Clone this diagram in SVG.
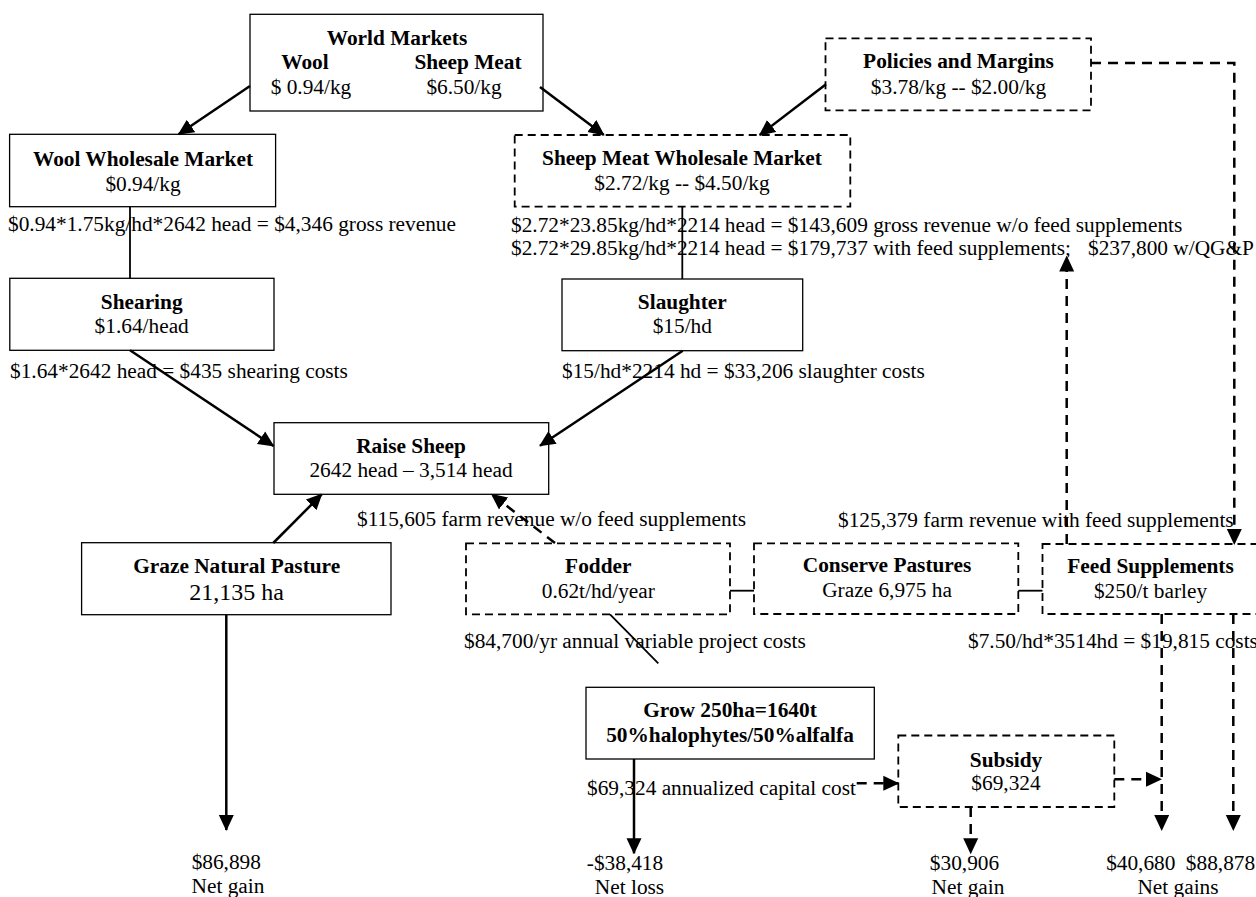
<svg xmlns="http://www.w3.org/2000/svg" width="1256" height="897" viewBox="0 0 1256 897">
<style>
text{font-family:"Liberation Serif","Times New Roman",serif;font-size:21.33px;fill:#000}
.b{font-weight:bold}
.c{text-anchor:middle}
.box{fill:#fff;stroke:#000;stroke-width:1.3}
.dbox{fill:#fff;stroke:#000;stroke-width:1.8;stroke-dasharray:8 5}
.conn{fill:none;stroke:#000;stroke-width:2.5}
.dash{stroke-dasharray:10 7}
.thin{stroke-width:1.8}
</style>
<defs>
<marker id="ah" markerUnits="userSpaceOnUse" markerWidth="16" markerHeight="16" viewBox="0 0 16 16" refX="15" refY="8" orient="auto">
<path d="M0,0.5 L16,8 L0,15.5 z" fill="#000"/>
</marker>
</defs>

<g id="labels">
<text x="8" y="231">$0.94*1.75kg/hd*2642 head = $4,346 gross revenue</text>
<text x="511" y="231.5">$2.72*23.85kg/hd*2214 head = $143,609 gross revenue w/o feed supplements</text>
<text x="511" y="255.3">$2.72*29.85kg/hd*2214 head = $179,737 with feed supplements;</text>
<text x="1088" y="255.3">$237,800 w/QG&amp;P</text>
<text x="10" y="378">$1.64*2642 head = $435 shearing costs</text>
<text x="562" y="378">$15/hd*2214 hd = $33,206 slaughter costs</text>
<text x="357" y="526">$115,605 farm revenue w/o feed supplements</text>
<text x="838" y="527">$125,379 farm revenue with feed supplements</text>
<text x="464" y="648">$84,700/yr annual variable project costs</text>
<text x="968" y="648">$7.50/hd*3514hd = $19,815 costs</text>
<text x="587" y="795">$69,324 annualized capital cost</text>
<text class="c" x="226.3" y="869">$86,898</text>
<text class="c" x="228" y="893">Net gain</text>
<text class="c" x="625" y="870">-$38,418</text>
<text class="c" x="629.5" y="894">Net loss</text>
<text class="c" x="964.5" y="870">$30,906</text>
<text class="c" x="968" y="894">Net gain</text>
<text class="c" x="1140.8" y="870">$40,680</text>
<text class="c" x="1220.5" y="870">$88,878</text>
<text class="c" x="1178" y="894">Net gains</text>
</g>

<g id="world-markets">
<rect class="box" x="250" y="14.3" width="293" height="96.7"/>
<text class="b c" x="397" y="45">World Markets</text>
<text class="b c" x="305" y="69.3">Wool</text>
<text class="b c" x="468" y="69.3">Sheep Meat</text>
<text class="c" x="311" y="94">$ 0.94/kg</text>
<text class="c" x="464" y="94">$6.50/kg</text>
</g>

<g id="wool-wholesale">
<rect class="box" x="9.6" y="134.3" width="266" height="72.4"/>
<text class="b c" x="143" y="165.5">Wool Wholesale Market</text>
<text class="c" x="143" y="190.5">$0.94/kg</text>
</g>

<g id="policies">
<rect class="dbox" x="825.5" y="38.3" width="265.5" height="72"/>
<text class="b c" x="958.5" y="68.3">Policies and Margins</text>
<text class="c" x="958.5" y="93.5">$3.78/kg -- $2.00/kg</text>
</g>

<g id="sheep-meat-wholesale">
<rect class="dbox" x="514.7" y="135" width="335.6" height="71.7"/>
<text class="b c" x="682" y="165">Sheep Meat Wholesale Market</text>
<text class="c" x="682" y="190">$2.72/kg -- $4.50/kg</text>
</g>

<g id="shearing">
<rect class="box" x="9.8" y="278.3" width="264.2" height="72"/>
<text class="b c" x="141.7" y="309.3">Shearing</text>
<text class="c" x="141.7" y="333.3">$1.64/head</text>
</g>

<g id="slaughter">
<rect class="box" x="562" y="279" width="240.7" height="71.7"/>
<text class="b c" x="682.3" y="309.3">Slaughter</text>
<text class="c" x="682.3" y="333.3">$15/hd</text>
</g>

<g id="raise-sheep">
<rect class="box" x="274" y="422.7" width="274.7" height="71.6"/>
<text class="b c" x="411" y="452.7">Raise Sheep</text>
<text class="c" x="411" y="477.3">2642 head – 3,514 head</text>
</g>

<g id="graze">
<rect class="box" x="81.6" y="542.7" width="309.4" height="72"/>
<text class="b c" x="236.7" y="572.7">Graze Natural Pasture</text>
<text class="c" x="236.7" y="600" style="font-size:24px">21,135 ha</text>
</g>

<g id="fodder">
<rect class="dbox" x="466" y="543.3" width="264" height="71"/>
<text class="b c" x="598.3" y="572.7">Fodder</text>
<text class="c" x="598.3" y="597.7">0.62t/hd/year</text>
</g>

<g id="conserve">
<rect class="dbox" x="754" y="543.3" width="264.3" height="70.7"/>
<text class="b c" x="887" y="572">Conserve Pastures</text>
<text class="c" x="887" y="597">Graze 6,975 ha</text>
</g>

<g id="feed">
<rect class="dbox" x="1042.5" y="544" width="225" height="70"/>
<text class="b c" x="1150.5" y="573">Feed Supplements</text>
<text class="c" x="1150.5" y="598">$250/t barley</text>
</g>

<g id="grow">
<rect class="box" x="586" y="687.3" width="288.3" height="71.7"/>
<text class="b c" x="730" y="717.3">Grow 250ha=1640t</text>
<text class="b c" x="730" y="741.7">50%halophytes/50%alfalfa</text>
</g>

<g id="subsidy">
<rect class="dbox" x="898.3" y="735.5" width="216" height="71.5"/>
<text class="b c" x="1006" y="766.7">Subsidy</text>
<text class="c" x="1006" y="790">$69,324</text>
</g>

<g id="connectors">
<line class="conn" x1="250" y1="86" x2="178.6" y2="134.3" marker-end="url(#ah)"/>
<line class="conn" x1="540" y1="87" x2="603.8" y2="135" marker-end="url(#ah)"/>
<line class="conn" x1="826" y1="84.3" x2="759.7" y2="135" marker-end="url(#ah)"/>
<line class="conn thin" x1="130" y1="206.7" x2="130" y2="278.3"/>
<line class="conn thin" x1="682.3" y1="206.7" x2="682.3" y2="279"/>
<line class="conn" x1="130" y1="350.3" x2="273.5" y2="446" marker-end="url(#ah)"/>
<line class="conn" x1="682.7" y1="350.7" x2="540" y2="445.7" marker-end="url(#ah)"/>
<line class="conn" x1="273.3" y1="543" x2="321.7" y2="494.3" marker-end="url(#ah)"/>
<line class="conn" x1="226.3" y1="615" x2="226.3" y2="830" marker-end="url(#ah)"/>
<line class="conn" x1="634" y1="759" x2="634" y2="853.3" marker-end="url(#ah)"/>
<line class="conn thin" x1="610" y1="614.3" x2="658.3" y2="663.3"/>
<line class="conn thin" x1="730" y1="590.7" x2="754" y2="590.7"/>
<line class="conn thin" x1="1018.3" y1="590.7" x2="1042.5" y2="590.7"/>
<line class="conn dash" x1="555" y1="543" x2="491.7" y2="494.3" marker-end="url(#ah)"/>
<path class="conn dash" d="M1091,63 H1234.3 V544" marker-end="url(#ah)"/>
<line class="conn dash" x1="1066.7" y1="544" x2="1066.7" y2="256.5" marker-end="url(#ah)"/>
<line class="conn dash" x1="1161.7" y1="614" x2="1161.7" y2="830" marker-end="url(#ah)"/>
<line class="conn dash" x1="1233.3" y1="614" x2="1233.3" y2="830" marker-end="url(#ah)"/>
<line class="conn dash" x1="856.7" y1="783.3" x2="898.3" y2="783.3" marker-end="url(#ah)"/>
<line class="conn dash" x1="1114.3" y1="779.3" x2="1161" y2="779.3" marker-end="url(#ah)"/>
<line class="conn dash" x1="970.7" y1="807" x2="970.7" y2="853.3" marker-end="url(#ah)"/>
</g>
</svg>
